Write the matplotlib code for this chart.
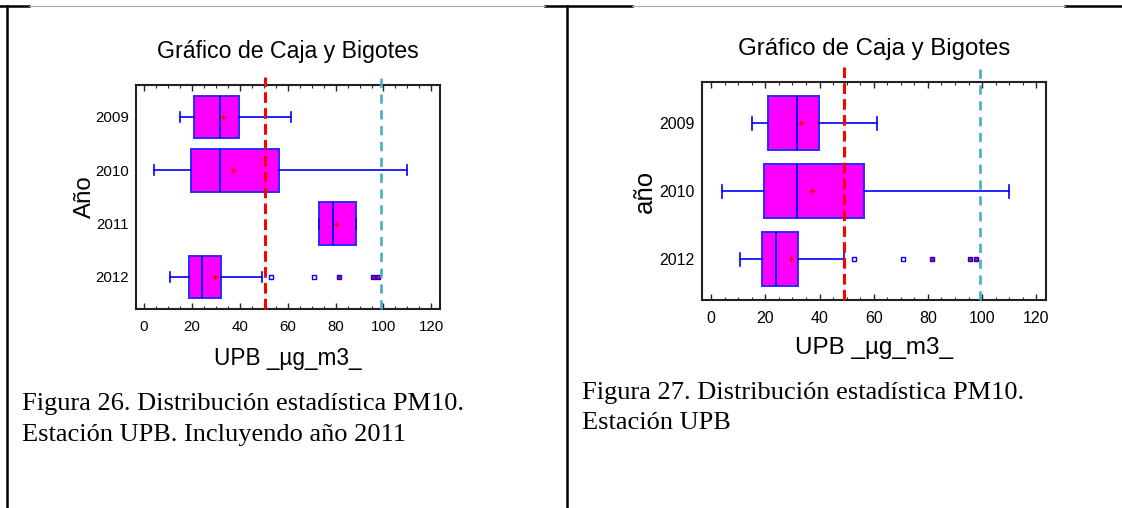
import matplotlib.pyplot as plt
from matplotlib.lines import Line2D
from matplotlib.ticker import MultipleLocator

plt.rcParams['font.family'] = ['Liberation Sans', 'DejaVu Sans']

# PM10 estación UPB (µg/m3): resumen de caja y bigotes por año
anios = ['2009', '2010', '2011', '2012']
bigote_inf = [15.0, 4.0, 72.9, 10.7]
q1 = [20.9, 19.4, 72.9, 18.7]
mediana = [31.6, 31.6, 78.9, 24.0]
media = [33.1, 37.2, 80.2, 29.6]
q3 = [39.7, 56.4, 88.6, 32.2]
bigote_sup = [61.2, 110.0, 88.6, 49.2]
atipicos = {'2012': [52.9, 70.8, 81.5, 95.5, 97.9]}

# líneas de referencia (rojo, azul) para cada gráfico
ref_rojo = [50.4, 49.1]
ref_azul = [99.1, 99.2]

W, H = 1122, 508
fig = plt.figure(figsize=(W / 100, H / 100), dpi=100)


def px(x0, y0, x1, y1):
    return [x0 / W, 1 - y1 / H, (x1 - x0) / W, (y1 - y0) / H]


def caja(ax, sel, rojo, azul, ylab, fs_tick, fs_lab, fs_tit, ext):
    stats = []
    for i in sel:
        stats.append(dict(med=mediana[i], q1=q1[i], q3=q3[i], mean=media[i],
                          whislo=bigote_inf[i], whishi=bigote_sup[i], fliers=[]))
    pos = list(range(1, len(sel) + 1))
    ax.bxp(stats, positions=pos, orientation='horizontal', widths=0.8,
           capwidths=0.19, patch_artist=True, showmeans=True, showfliers=False,
           boxprops=dict(facecolor='#FF00FF', edgecolor='#2A2AFF', linewidth=1.4),
           medianprops=dict(color='#0000FF', linewidth=1.4),
           whiskerprops=dict(color='#0000FF', linewidth=1.2),
           capprops=dict(color='#0000FF', linewidth=1.2),
           meanprops=dict(marker='+', markeredgecolor='red', markersize=4,
                          markeredgewidth=1))

    # puntos fuera (cuadros) y muy fuera (con centro rojo)
    for p, i in zip(pos, sel):
        pts = atipicos.get(anios[i], [])
        lim = q3[i] + 3 * (q3[i] - q1[i])
        for v in pts:
            ax.plot(v, p, 's', ms=3.2, mew=1, mec='#0000FF',
                    mfc='red' if v > lim else 'white', zorder=4)

    for v, c, lw, dash in [(rojo, '#FF0000', 2.2, (3.5, 1.7)),
                           (azul, '#4BACC6', 1.9, (3.5, 2.5))]:
        ax.plot([v, v], [0, 1 + ext], transform=ax.get_xaxis_transform(),
                color=c, lw=lw, ls=(0, dash), clip_on=False, zorder=5)

    ax.set_ylim(len(sel) + 0.6, 0.4)
    ax.set_yticks(pos, [anios[i] for i in sel])
    ax.set_xlim(-3.5, 123.6)
    ax.xaxis.set_major_locator(MultipleLocator(20))
    ax.xaxis.set_minor_locator(MultipleLocator(5))
    ax.tick_params(axis='x', which='both', direction='in', top=True,
                   labelsize=fs_tick, pad=8, color='#222222')
    ax.tick_params(axis='x', which='major', length=4, width=1)
    ax.tick_params(axis='x', which='minor', length=2, width=0.8)
    ax.tick_params(axis='y', length=0, labelsize=fs_tick, pad=5)
    for s in ax.spines.values():
        s.set_linewidth(1.5)
        s.set_color('#222222')

    ax.set_title('Gráfico de Caja y Bigotes', fontsize=fs_tit, pad=19.5)
    ax.set_xlabel('UPB _µg_m3_', fontsize=fs_lab)
    ax.xaxis.set_label_coords(0.5, -0.17)
    ax.set_ylabel(ylab, fontsize=fs_lab + 1)
    ax.yaxis.set_label_coords(-0.13, 0.5)


ax1 = fig.add_axes(px(135.7, 85, 440, 309))
caja(ax1, [0, 1, 2, 3], ref_rojo[0], ref_azul[0], 'Año', 10.8, 16.3, 16.7, 0.037)

ax2 = fig.add_axes(px(701.7, 82.3, 1046, 300))
caja(ax2, [0, 1, 3], ref_rojo[1], ref_azul[1], 'año', 11.5, 17.5, 17.3, 0.069)

serif = ['Liberation Serif', 'DejaVu Serif']
fig.text(22 / W, 1 - 404 / H, 'Figura 26. Distribución estadística PM10.',
         family=serif, fontsize=19, va='center')
fig.text(22 / W, 1 - 435 / H, 'Estación UPB. Incluyendo año 2011',
         family=serif, fontsize=19, va='center')
fig.text(582 / W, 1 - 393 / H, 'Figura 27. Distribución estadística PM10.',
         family=serif, fontsize=19, va='center')
fig.text(582 / W, 1 - 423 / H, 'Estación UPB',
         family=serif, fontsize=19, va='center')

# bordes de la tabla que contiene las figuras
yb = 1 - 6 / H
for x0, x1 in [(0, 29), (545, 632), (1065, W)]:
    fig.add_artist(Line2D([x0 / W, x1 / W], [yb, yb], color='black', lw=1.8))
for x0, x1 in [(29, 545), (632, 1065)]:
    fig.add_artist(Line2D([x0 / W, x1 / W], [yb, yb], color='#AAAAAA', lw=0.8))
for x in [7, 567]:
    fig.add_artist(Line2D([x / W, x / W], [0, yb], color='black', lw=1.8))

fig.savefig('out.png', dpi=100)
